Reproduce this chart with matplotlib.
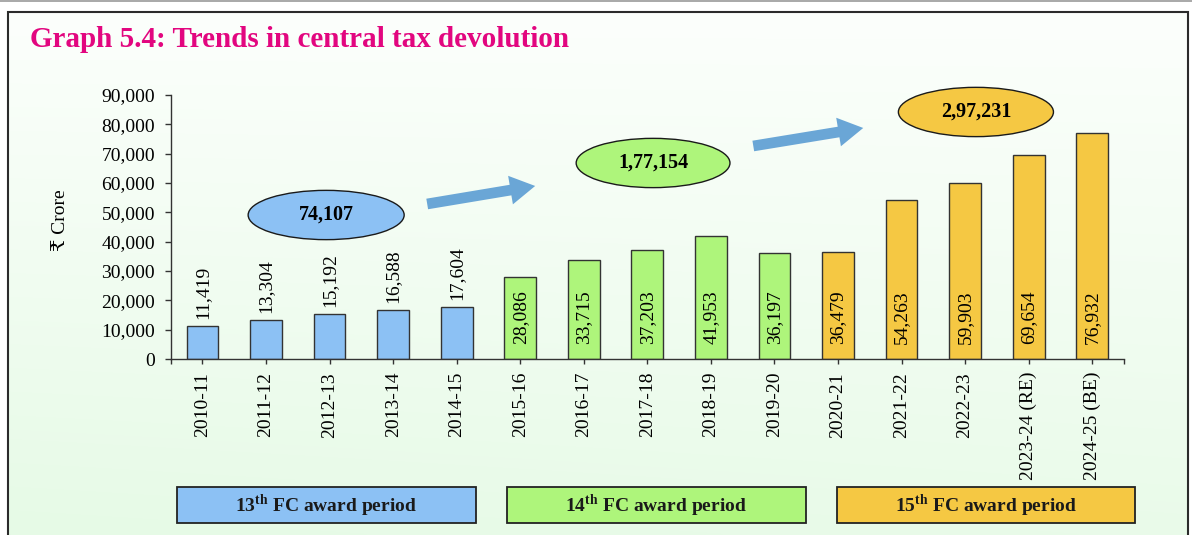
import numpy as np
import matplotlib
matplotlib.use("Agg")
import matplotlib.pyplot as plt
from matplotlib.patches import Ellipse, Rectangle, FancyArrowPatch, ArrowStyle
from matplotlib.ticker import FuncFormatter, FixedLocator

# ---------------- data ----------------
years = ["2010-11", "2011-12", "2012-13", "2013-14", "2014-15",
         "2015-16", "2016-17", "2017-18", "2018-19", "2019-20",
         "2020-21", "2021-22", "2022-23", "2023-24 (RE)", "2024-25 (BE)"]
values = [11419, 13304, 15192, 16588, 17604,
          28086, 33715, 37203, 41953, 36197,
          36479, 54263, 59903, 69654, 76932]
period_of_year = [0, 0, 0, 0, 0, 1, 1, 1, 1, 1, 2, 2, 2, 2, 2]
period_names = ["13", "14", "15"]
period_totals = ["74,107", "1,77,154", "2,97,231"]
period_colors = ["#8CC1F4", "#AEF57B", "#F5C843"]

title = "Graph 5.4: Trends in central tax devolution"
ylabel = "\u20b9 Crore"

# ---------------- style ----------------
plt.rcParams["font.family"] = ["Liberation Serif", "DejaVu Serif", "DejaVu Sans"]
plt.rcParams["mathtext.fontset"] = "custom"
plt.rcParams["mathtext.rm"] = "Liberation Serif"
plt.rcParams["mathtext.bf"] = "Liberation Serif:bold"

W, H = 1192, 535
fig = plt.figure(figsize=(W / 100, H / 100), dpi=100)
fig.patch.set_facecolor("white")

def fx(px):
    return px / W

def fy(py):
    return 1 - py / H

# background gradient inside frame
ax_bg = fig.add_axes([0, 0, 1, 1], zorder=-10)
ax_bg.set_xlim(0, 1)
ax_bg.set_ylim(0, 1)
ax_bg.axis("off")
ny, nx = 200, 200
yy, xx = np.mgrid[0:1:ny * 1j, 0:1:nx * 1j]
t = np.clip(0.85 * yy + 0.15 * (1 - xx) * yy, 0, 1)  # 0 at top -> 1 bottom
top_c = np.array([252, 255, 252]) / 255
bot_c = np.array([230, 250, 230]) / 255
img = top_c[None, None, :] * (1 - t[..., None]) + bot_c[None, None, :] * t[..., None]
ax_bg.imshow(img, extent=[fx(7.6), fx(1188), 0, fy(11.5)], origin="upper",
             aspect="auto", interpolation="bilinear")
# frame
ax_bg.plot([fx(7.6), fx(7.6), fx(1188), fx(1188)], [0, fy(11.5), fy(11.5), 0],
           color="#2b2b2b", lw=1.5, solid_joinstyle="miter")
ax_bg.plot([0, 1], [fy(0.6), fy(0.6)], color="#9a9a9a", lw=1.2)

# ---------------- main axes ----------------
ax = fig.add_axes([fx(170.7), fy(359), fx(1124) - fx(170.7), fy(95) - fy(359)])
ax.patch.set_alpha(0)
x = np.arange(len(years))
bar_colors = [period_colors[p] for p in period_of_year]
ax.bar(x, values, width=0.5, color=bar_colors, edgecolor="#333333", linewidth=1, zorder=2)
ax.set_xlim(-0.5, len(years) - 0.5)
ax.set_ylim(0, 90000)
ax.set_yticks(np.arange(0, 90001, 10000))
ax.yaxis.set_major_formatter(FuncFormatter(lambda v, p: f"{int(v):,}"))
ax.set_xticks(x)
ax.set_xticklabels(years, rotation=90, fontsize=14)
ax.xaxis.set_minor_locator(FixedLocator([-0.5, len(years) - 0.5]))
ax.tick_params(axis="y", direction="out", length=4.3, width=1, labelsize=14, pad=7, color="#333333")
ax.tick_params(axis="x", which="both", direction="out", length=3.8, width=1, pad=5.5, color="#333333")
for s in ["top", "right"]:
    ax.spines[s].set_visible(False)
for s in ["left", "bottom"]:
    ax.spines[s].set_color("#333333")
    ax.spines[s].set_linewidth(1)

# value labels
for i, v in enumerate(values):
    if period_of_year[i] == 0:
        ax.annotate(f"{v:,}", (i, v), xytext=(0, 5), textcoords="offset points",
                    rotation=90, ha="center", va="bottom", fontsize=14, zorder=3)
    else:
        ax.annotate(f"{v:,}", (i, 0), xytext=(0, 10.5), textcoords="offset points",
                    rotation=90, ha="center", va="bottom", fontsize=14, zorder=3)

# period total ellipses (data coords)
ell_pos = [(1.946, 49090, 2.455), (7.09, 66820, 2.42), (12.17, 84210, 2.44)]
for k, (cx, cy, w) in enumerate(ell_pos):
    e = Ellipse((cx, cy), w, 16800, facecolor=period_colors[k], edgecolor="#1a1a1a",
                lw=1, zorder=4, clip_on=False)
    ax.add_patch(e)
    ax.text(cx, cy, period_totals[k], ha="center", va="center", fontsize=14.5,
            fontweight="bold", zorder=5, clip_on=False)

# arrows
arrow_pos = [((3.536, 52850), (5.235, 58990)), ((8.667, 72620), (10.397, 78760))]
style = ArrowStyle.Simple(head_length=0.9, head_width=1.04, tail_width=0.385)
for a, b in arrow_pos:
    arr = FancyArrowPatch(a, b, arrowstyle=style, mutation_scale=20, color="#6AA6D6",
                          lw=0, shrinkA=0, shrinkB=0, zorder=4, clip_on=False)
    ax.add_patch(arr)

# title & ylabel
fig.text(fx(30), fy(47), title, fontsize=21, fontweight="bold", color="#E2067F",
         ha="left", va="baseline")
fig.text(fx(60.5), fy(220), ylabel, rotation=90, ha="center", va="center", fontsize=14)

# period legend boxes
box_x = [(176.7, 475.7), (506.7, 805.5), (836.7, 1135)]
for k, (x0, x1) in enumerate(box_x):
    r = Rectangle((fx(x0), fy(523.3)), fx(x1) - fx(x0), fy(487.3) - fy(523.3),
                  transform=fig.transFigure, facecolor=period_colors[k],
                  edgecolor="#222222", lw=1.3, zorder=5)
    fig.patches.append(r)
    fig.text((fx(x0) + fx(x1)) / 2, (fy(523.3) + fy(487.3)) / 2,
             r"$\mathbf{" + period_names[k] + r"}^{\mathbf{th}}$ FC award period",
             ha="center", va="center", fontsize=14, fontweight="bold", color="#1a1a1a", zorder=6)

fig.savefig("out.png", dpi=100)
